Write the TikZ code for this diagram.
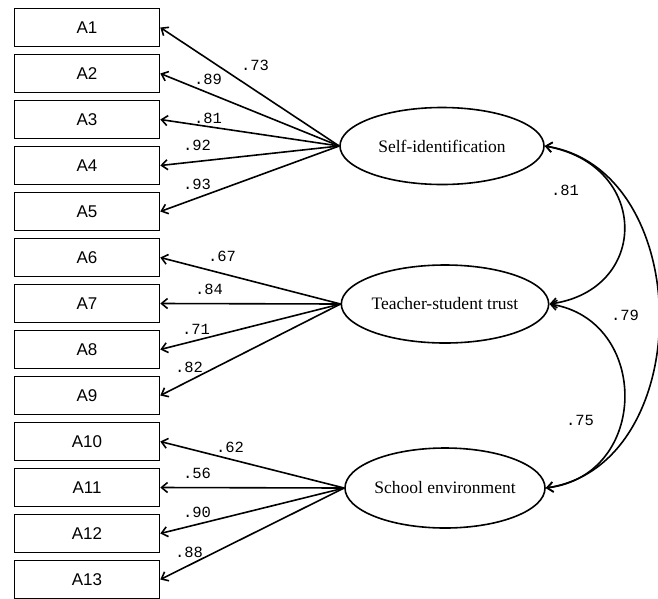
\documentclass[tikz,border=0pt]{standalone}
\usepackage{fontspec}
\usepackage{tikz}
\usetikzlibrary{arrows.meta,shapes.geometric}
\newfontfamily\boxfont{Liberation Sans}
\newfontfamily\factorfont{Liberation Serif}
\newfontfamily\loadfont{Liberation Mono}

\begin{document}
\begin{tikzpicture}[x=1pt,y=-1pt,>={Straight Barb[length=6pt,width=10pt]},
	line width=1.6pt]
	\tikzstyle{item}=[draw,rectangle,minimum width=145pt,minimum height=38pt,
		inner sep=0pt,font=\boxfont\fontsize{17}{17}\selectfont]
	\tikzstyle{factor}=[draw,ellipse,inner sep=0pt,font=\factorfont\fontsize{17.5}{17.5}\selectfont]
	\tikzstyle{load}=[inner sep=0pt,font=\loadfont\fontsize{15.5}{15.5}\selectfont]
	
	\useasboundingbox (0,0) rectangle (658,598);
	
	% observed items
	\foreach \i in {1,...,13}
		\node[item] (A\i) at (87,{27.5+46*(\i-1)}) {A\i};
	
	% latent factors
	\node[factor,minimum width=204pt,minimum height=77pt] (F1) at (442,146) {Self-identification};
	\node[factor,minimum width=200pt,minimum height=78pt] (F2) at (445,304) {Teacher-student trust};
	\node[factor,minimum width=200pt,minimum height=80pt] (F3) at (445,488) {School environment};
	
	% loadings
	\foreach \i in {1,...,5}
		\draw[->] (F1.west) -- (A\i.east);
	\foreach \i in {6,...,9}
		\draw[->] (F2.west) -- (A\i.east);
	\foreach \i in {10,...,13}
		\draw[->] (F3.west) -- (A\i.east);
	
	\foreach \v/\x/\y [count=\n] in {.73/255/65, .89/208/79, .81/208/118, .92/197/145,
		.93/197/184, .67/222/256, .84/209/289, .71/196/329, .82/189/367,
		.62/230/447, .56/197/473, .90/197/512, .88/189/552}
		\node[load] (l\n) at (\x,\y) {\v};
	
	% correlations
	\draw[<->] (F1.east) .. controls (650,165) and (650,290) .. (F2.east);
	\draw[<->] (F2.east) .. controls (650,320) and (650,475) .. (F3.east);
	\draw[<->] (F1.east) .. controls (697,170) and (697,465) .. (F3.east);
	
	\node[load] (r12) at (565,190) {.81};
	\node[load] (r13) at (625,315) {.79};
	\node[load] (r23) at (580,420) {.75};
\end{tikzpicture}
\end{document}
